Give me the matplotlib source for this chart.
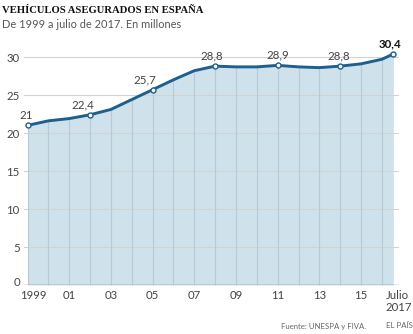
import matplotlib
matplotlib.use("Agg")
import matplotlib.pyplot as plt
from matplotlib.transforms import ScaledTranslation

# Data
x_pos = [1999, 2000, 2001, 2002, 2003, 2004, 2005, 2006, 2007, 2008,
         2009, 2010, 2011, 2012, 2013, 2014, 2015, 2016, 2016.55]
values = [21.0, 21.6, 21.9, 22.4, 23.1, 24.4, 25.7, 27.0, 28.2, 28.8,
          28.7, 28.7, 28.9, 28.7, 28.6, 28.8, 29.1, 29.7, 30.4]
labeled_idx = [0, 3, 6, 9, 12, 15, 18]
label_texts = ["21", "22,4", "25,7", "28,8", "28,9", "28,8", "30,4"]
label_dx = [-1, -7, -8, -3, 0, -1, -3]
xtick_pos = [1999, 2001, 2003, 2005, 2007, 2009, 2011, 2013, 2015, 2016.55]
xtick_labels = ["1999", "01", "03", "05", "07", "09", "11", "13", "15", "Julio\n2017"]
yticks = [0, 5, 10, 15, 20, 25, 30]

W, H = 414, 334
fig = plt.figure(figsize=(W / 100, H / 100), dpi=100)
ax = fig.add_axes([24 / W, (H - 285) / H, (399 - 24) / W, (285 - 41.8) / H])

sans = "Lato"
line_col = "#1d5f8e"
fill_col = "#cfe1eb"
txt_col = "#444444"

ax.set_xlim(1998.83, 2016.82)
ax.set_ylim(0, 32)

ax.fill_between(x_pos, values, 0, color=fill_col, zorder=1, linewidth=0)
for yv in yticks[1:]:
    ax.axhline(yv, color="#d3d3d3", lw=0.8, zorder=2)
ax.vlines(x_pos[:-1], 0, values[:-1], color="#b7cbd6", lw=0.8, zorder=2)
ax.plot(x_pos, values, color=line_col, lw=2.1, zorder=4, solid_capstyle="round")
ax.plot([x_pos[i] for i in labeled_idx], [values[i] for i in labeled_idx],
        ls="none", marker="o", ms=3.6, mfc="white", mec=line_col, mew=1.0, zorder=5)

for k, (i, t) in enumerate(zip(labeled_idx, label_texts)):
    bold = (k == len(labeled_idx) - 1)
    ax.annotate(t, (x_pos[i], values[i]), xytext=(label_dx[k] * 0.72, 3.2),
                textcoords="offset points", ha="center", va="bottom",
                fontsize=8.3, family=sans, color="#111111" if bold else txt_col,
                fontweight="bold" if bold else "normal", zorder=6)

ax.axhline(0, color="#777777", lw=1.0, zorder=3)

ax.set_yticks(yticks)
ax.set_yticklabels([str(v) for v in yticks])
ax.set_xticks(xtick_pos)
ax.set_xticklabels(xtick_labels, linespacing=1.1)
ax.tick_params(axis="both", length=0, labelsize=8.2, colors=txt_col)
ax.tick_params(axis="x", pad=3.5)
ax.tick_params(axis="y", pad=3)
for lab in ax.get_xticklabels() + ax.get_yticklabels():
    lab.set_family(sans)
xl = ax.get_xticklabels()
last = xl[-1]
last.set_ha("left")
last.set_multialignment("left")
last.set_transform(last.get_transform() + ScaledTranslation(-8 / 100, 0, fig.dpi_scale_trans))
xl[0].set_transform(xl[0].get_transform() + ScaledTranslation(6 / 100, 0, fig.dpi_scale_trans))
y0 = ax.get_yticklabels()[0]
y0.set_transform(y0.get_transform() + ScaledTranslation(0, 4 / 100, fig.dpi_scale_trans))
for s in ax.spines.values():
    s.set_visible(False)

fig.text(2 / W, 1 - 10.5 / H, "VEHÍCULOS ASEGURADOS EN ESPAÑA", family="Liberation Serif",
         fontweight="bold", fontsize=7.7, color="#111111",
         va="center", ha="left")
fig.text(2 / W, 1 - 25 / H, "De 1999 a julio de 2017. En millones", family=sans,
         fontsize=7.95, color="#555555", va="center", ha="left")
fig.text(366 / W, 1 - 326 / H, "Fuente: UNESPA y FIVA.", family=sans,
         fontsize=5.6, color="#666666", va="center", ha="right")
fig.text(413 / W, 1 - 326 / H, "EL PAÍS", family=sans,
         fontsize=5.6, color="#666666", va="center", ha="right")

fig.savefig("out.png", dpi=100, facecolor="white")
